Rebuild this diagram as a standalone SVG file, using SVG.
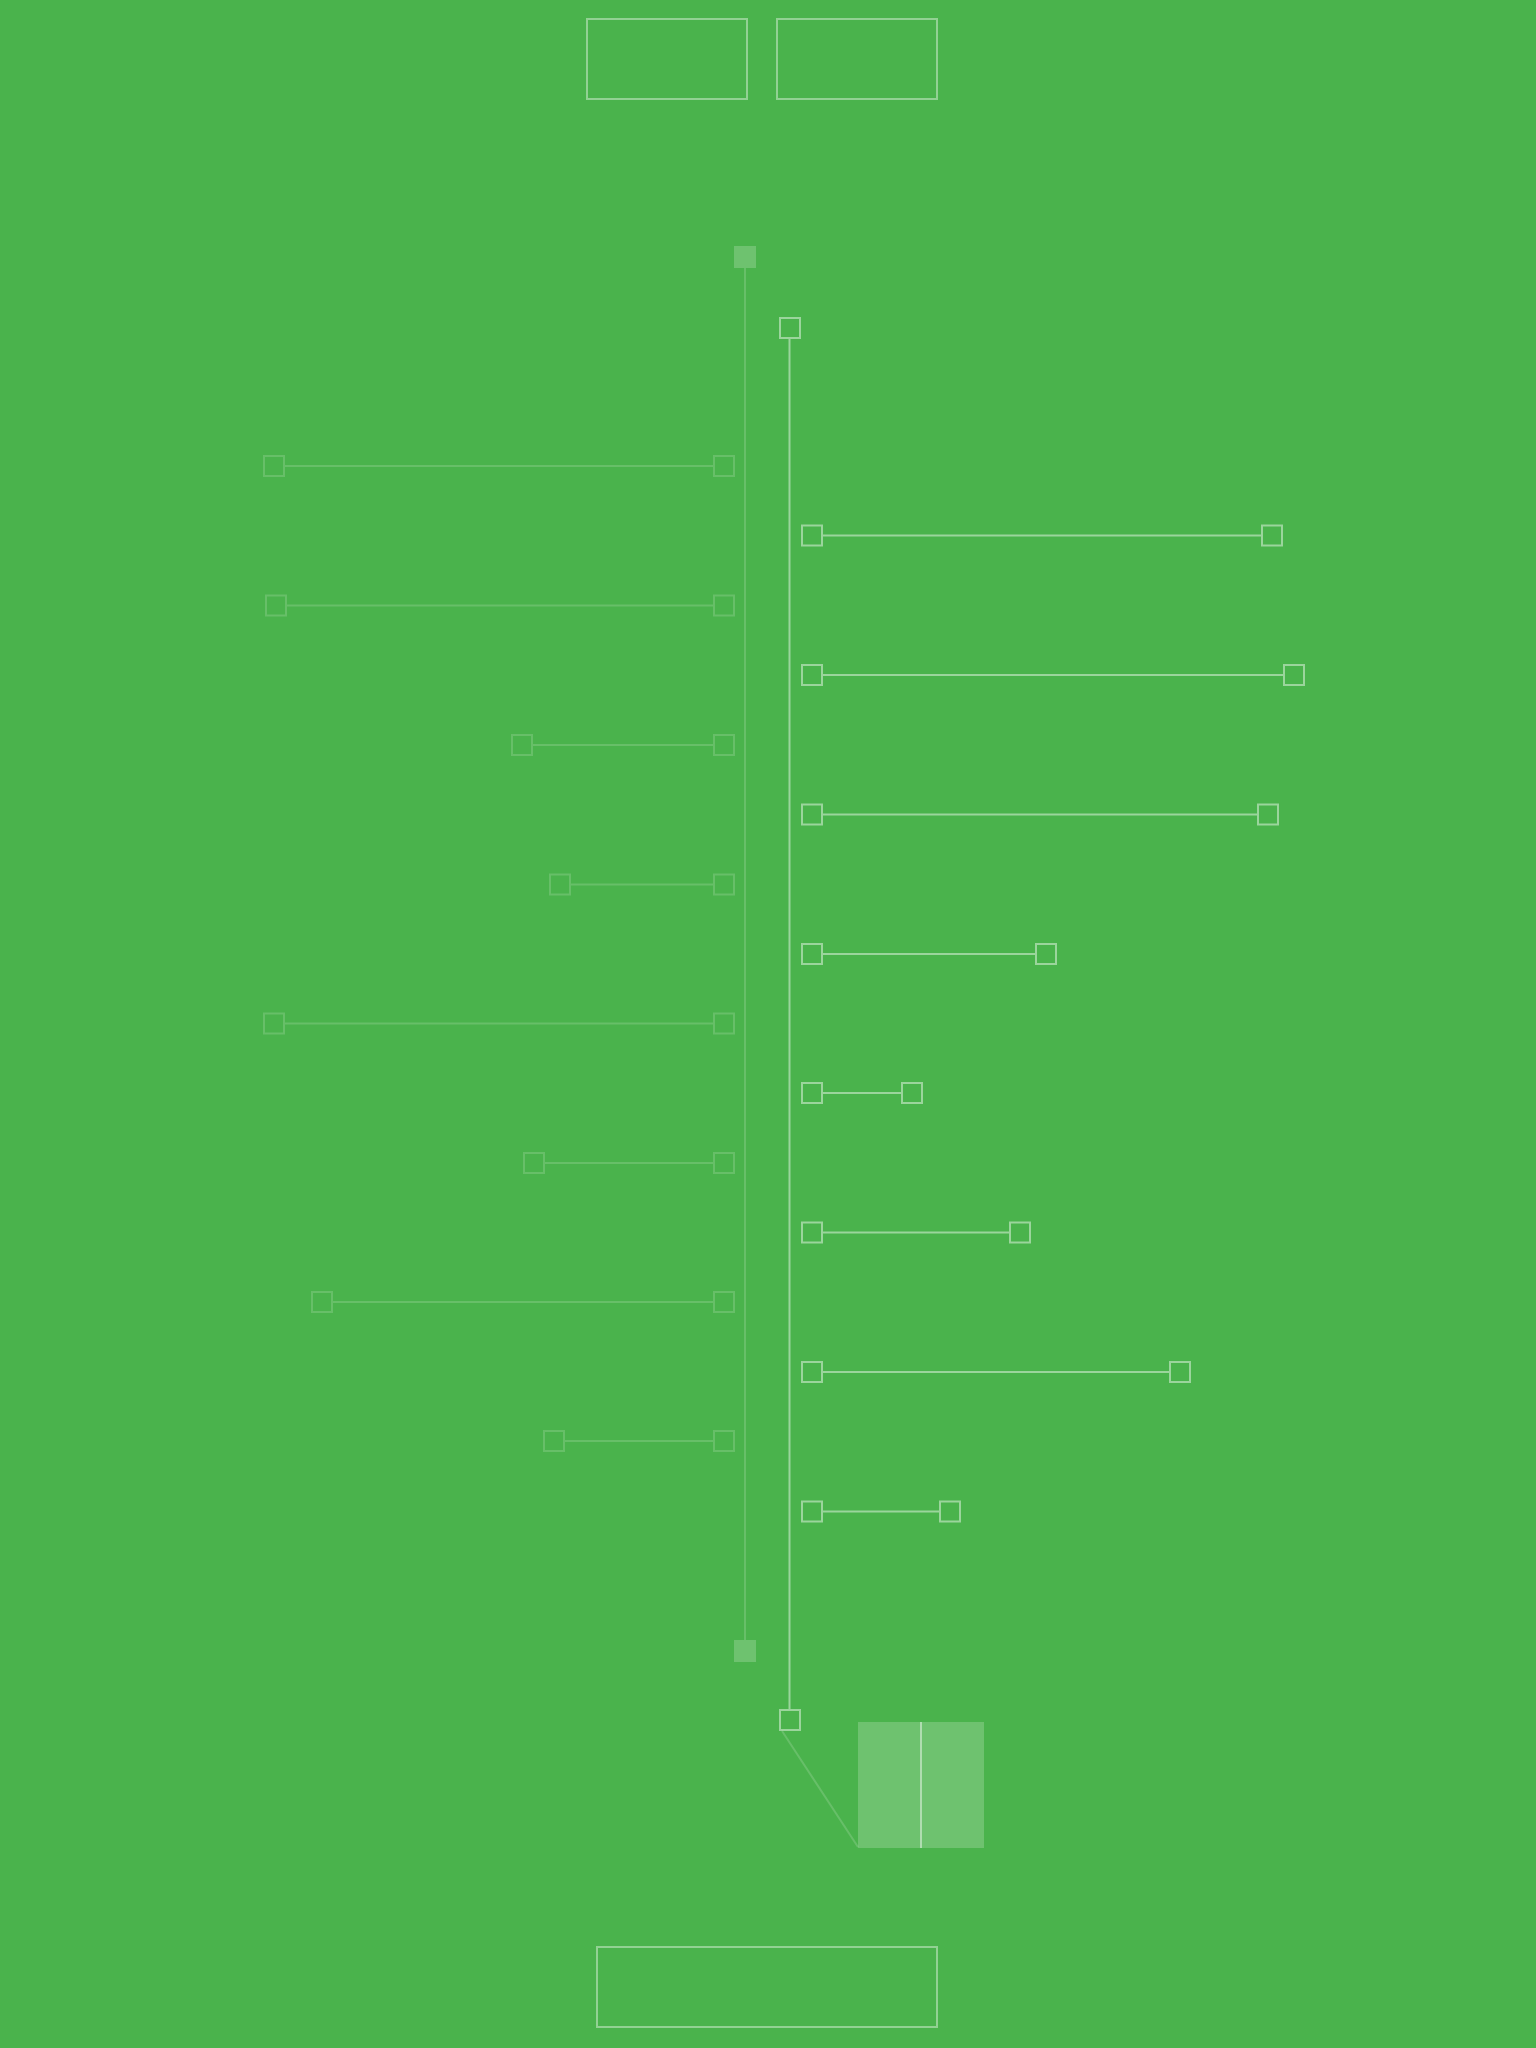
<svg xmlns="http://www.w3.org/2000/svg" width="1536" height="2048" viewBox="0 0 1536 2048">
<style>
.bg{fill:#4ab34c}
.box{fill:none;stroke:#ffffff;stroke-opacity:0.4;stroke-width:2}
.sq{fill:none;stroke:#ffffff;stroke-opacity:0.45;stroke-width:2}
.fsq{fill:none;stroke:#ffffff;stroke-opacity:0.16;stroke-width:2}
.fill{fill:#ffffff;fill-opacity:0.2;stroke:none}
.ln{stroke:#ffffff;stroke-opacity:0.45;stroke-width:2;fill:none}
.fln{stroke:#ffffff;stroke-opacity:0.16;stroke-width:2;fill:none}
</style>
<rect class="bg" x="0" y="0" width="1536" height="2048"/>
<g id="connectors">
<line class="fln" x1="745" y1="268" x2="745" y2="1640"/>
<line class="ln" x1="789.5" y1="339" x2="789.5" y2="1709"/>
<line class="fln" x1="285" y1="466" x2="713" y2="466"/>
<line class="fln" x1="287" y1="605.5" x2="713" y2="605.5"/>
<line class="fln" x1="533" y1="745" x2="713" y2="745"/>
<line class="fln" x1="571" y1="884.5" x2="713" y2="884.5"/>
<line class="fln" x1="285" y1="1023.5" x2="713" y2="1023.5"/>
<line class="fln" x1="545" y1="1163" x2="713" y2="1163"/>
<line class="fln" x1="333" y1="1302" x2="713" y2="1302"/>
<line class="fln" x1="565" y1="1441" x2="713" y2="1441"/>
<line class="ln" x1="823" y1="535.5" x2="1261" y2="535.5"/>
<line class="ln" x1="823" y1="675" x2="1283" y2="675"/>
<line class="ln" x1="823" y1="814.5" x2="1257" y2="814.5"/>
<line class="ln" x1="823" y1="954" x2="1035" y2="954"/>
<line class="ln" x1="823" y1="1093" x2="901" y2="1093"/>
<line class="ln" x1="823" y1="1232.5" x2="1009" y2="1232.5"/>
<line class="ln" x1="823" y1="1372" x2="1169" y2="1372"/>
<line class="ln" x1="823" y1="1511.5" x2="939" y2="1511.5"/>
<line class="fln" x1="782" y1="1731" x2="858" y2="1847"/>
</g>
<g id="top-box-1"><rect class="box" x="587" y="19" width="160" height="80"/></g>
<g id="top-box-2"><rect class="box" x="777" y="19" width="160" height="80"/></g>
<g id="bottom-box"><rect class="box" x="597" y="1947" width="340" height="80"/></g>
<g id="left-spine-top"><rect class="fill" x="734" y="246" width="22" height="22"/></g>
<g id="left-spine-bottom"><rect class="fill" x="734" y="1640" width="22" height="22"/></g>
<g id="right-spine-top"><rect class="sq" x="780" y="318" width="20" height="20"/></g>
<g id="right-spine-bottom"><rect class="sq" x="780" y="1710" width="20" height="20"/></g>
<g id="left-branches">
<rect class="fsq" x="264" y="456" width="20" height="20"/><rect class="fsq" x="714" y="456" width="20" height="20"/>
<rect class="fsq" x="266" y="595.5" width="20" height="20"/><rect class="fsq" x="714" y="595.5" width="20" height="20"/>
<rect class="fsq" x="512" y="735" width="20" height="20"/><rect class="fsq" x="714" y="735" width="20" height="20"/>
<rect class="fsq" x="550" y="874.5" width="20" height="20"/><rect class="fsq" x="714" y="874.5" width="20" height="20"/>
<rect class="fsq" x="264" y="1013.5" width="20" height="20"/><rect class="fsq" x="714" y="1013.5" width="20" height="20"/>
<rect class="fsq" x="524" y="1153" width="20" height="20"/><rect class="fsq" x="714" y="1153" width="20" height="20"/>
<rect class="fsq" x="312" y="1292" width="20" height="20"/><rect class="fsq" x="714" y="1292" width="20" height="20"/>
<rect class="fsq" x="544" y="1431" width="20" height="20"/><rect class="fsq" x="714" y="1431" width="20" height="20"/>
</g>
<g id="right-branches">
<rect class="sq" x="802" y="525.5" width="20" height="20"/><rect class="sq" x="1262" y="525.5" width="20" height="20"/>
<rect class="sq" x="802" y="665" width="20" height="20"/><rect class="sq" x="1284" y="665" width="20" height="20"/>
<rect class="sq" x="802" y="804.5" width="20" height="20"/><rect class="sq" x="1258" y="804.5" width="20" height="20"/>
<rect class="sq" x="802" y="944" width="20" height="20"/><rect class="sq" x="1036" y="944" width="20" height="20"/>
<rect class="sq" x="802" y="1083" width="20" height="20"/><rect class="sq" x="902" y="1083" width="20" height="20"/>
<rect class="sq" x="802" y="1222.5" width="20" height="20"/><rect class="sq" x="1010" y="1222.5" width="20" height="20"/>
<rect class="sq" x="802" y="1362" width="20" height="20"/><rect class="sq" x="1170" y="1362" width="20" height="20"/>
<rect class="sq" x="802" y="1501.5" width="20" height="20"/><rect class="sq" x="940" y="1501.5" width="20" height="20"/>
</g>
<g id="panel">
<rect class="fill" x="858" y="1722" width="126" height="126"/>
<line class="ln" x1="921" y1="1722" x2="921" y2="1848"/>
</g>
</svg>
